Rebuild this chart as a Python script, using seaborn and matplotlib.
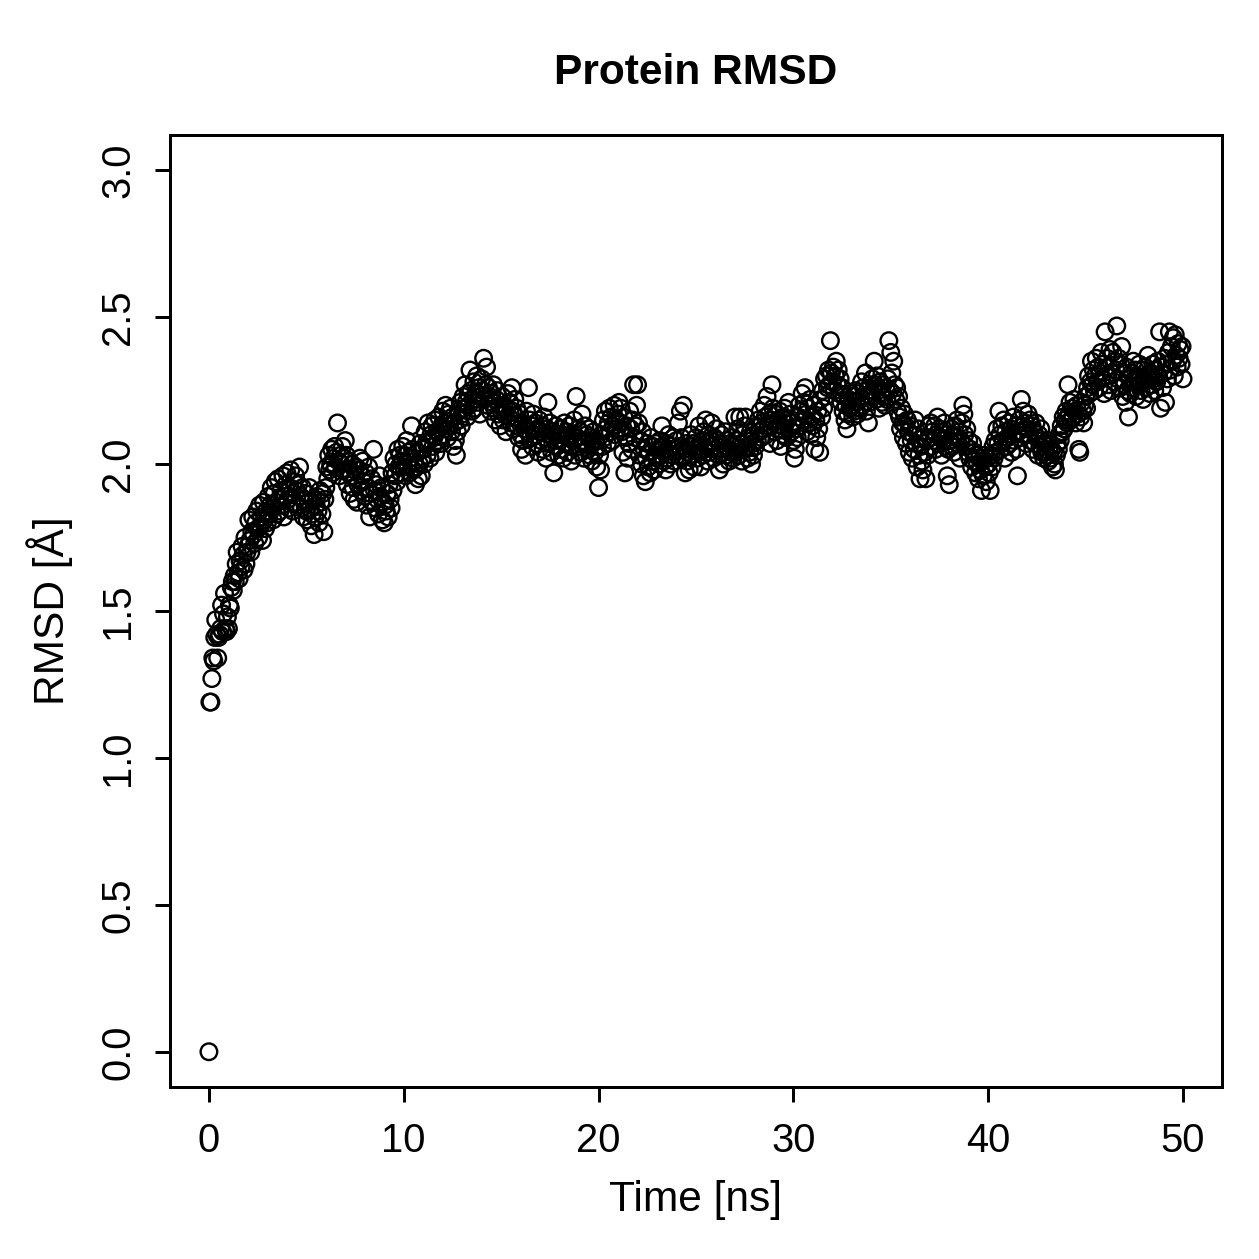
##############################################################################
#### Protein RMSD over simulation time (R base-graphics look)
##############################################################################
import numpy as np
import pandas as pd
import seaborn as sns
import matplotlib
matplotlib.use("Agg")
import matplotlib.pyplot as plt

###########
# Data: RMSD [A], one value every 0.05 ns (20 per ns)
rmsd_00_10 = [
    0.00, 1.19, 1.19, 1.27, 1.34, 1.33, 1.41, 1.47, 1.42, 1.34, 1.41, 1.42, 1.44, 1.52, 1.43, 1.49, 1.56, 1.44, 1.43, 1.48,
    1.44, 1.52, 1.51, 1.58, 1.60, 1.57, 1.62, 1.60, 1.66, 1.70, 1.63, 1.61, 1.67, 1.65, 1.72, 1.69, 1.64, 1.75, 1.66, 1.70,
    1.72, 1.81, 1.74, 1.70, 1.77, 1.82, 1.76, 1.73, 1.80, 1.84, 1.78, 1.75, 1.86, 1.79, 1.82, 1.74, 1.87, 1.81, 1.78, 1.84,
    1.80, 1.89, 1.83, 1.86, 1.92, 1.85, 1.81, 1.90, 1.94, 1.87, 1.83, 1.95, 1.88, 1.84, 1.91, 1.86, 1.96, 1.82, 1.89, 1.93,
    1.97, 1.88, 1.85, 1.92, 1.98, 1.90, 1.84, 1.94, 1.87, 1.96, 1.91, 1.86, 1.93, 1.99, 1.89, 1.85, 1.92, 1.82, 1.88, 1.90,
    1.84, 1.81, 1.87, 1.92, 1.85, 1.79, 1.83, 1.88, 1.76, 1.82, 1.86, 1.89, 1.84, 1.80, 1.91, 1.87, 1.83, 1.90, 1.77, 1.88,
    1.92, 1.99, 1.95, 2.03, 1.98, 2.00, 2.05, 1.97, 2.02, 2.06, 1.99, 2.04, 2.14, 2.01, 1.96, 2.03, 2.00, 2.06, 1.98, 2.02,
    2.08, 2.03, 1.93, 1.97, 2.01, 1.90, 1.96, 2.00, 1.92, 1.88, 1.95, 1.99, 1.87, 1.93, 1.98, 2.02, 1.91, 1.96, 2.01, 1.94,
    1.89, 1.97, 1.86, 1.92, 1.99, 1.82, 1.90, 1.95, 1.87, 2.05, 1.91, 1.85, 1.93, 1.88, 1.83, 1.96, 1.89, 1.92, 1.81, 1.87,
    1.80, 1.86, 1.84, 1.90, 1.82, 1.93, 1.88, 1.85, 1.97, 1.91, 2.02, 1.96, 2.00, 1.94, 2.05, 1.99, 2.03, 1.97, 2.01, 2.06,
]
rmsd_10_20 = [
    1.99, 2.03, 1.96, 2.08, 2.00, 2.04, 1.97, 2.02, 2.13, 2.05, 1.98, 2.01, 1.93, 1.99, 2.04, 1.95, 2.00, 2.07, 1.96, 2.02,
    2.05, 2.00, 2.11, 2.07, 2.03, 2.14, 2.08, 2.02, 2.10, 2.13, 2.06, 2.09, 2.15, 2.04, 2.11, 2.08, 2.16, 2.12, 2.07, 2.13,
    2.18, 2.10, 2.14, 2.20, 2.12, 2.09, 2.17, 2.13, 2.19, 2.11, 2.16, 2.06, 2.14, 2.08, 2.03, 2.11, 2.18, 2.15, 2.21, 2.13,
    2.17, 2.23, 2.19, 2.27, 2.21, 2.16, 2.24, 2.20, 2.32, 2.25, 2.18, 2.22, 2.28, 2.19, 2.24, 2.30, 2.21, 2.26, 2.17, 2.23,
    2.29, 2.25, 2.36, 2.22, 2.27, 2.33, 2.20, 2.26, 2.23, 2.18, 2.24, 2.21, 2.27, 2.19, 2.15, 2.22, 2.25, 2.17, 2.20, 2.13,
    2.18, 2.23, 2.15, 2.20, 2.17, 2.11, 2.19, 2.24, 2.16, 2.21, 2.14, 2.26, 2.18, 2.12, 2.22, 2.16, 2.19, 2.13, 2.09, 2.17,
    2.10, 2.05, 2.14, 2.08, 2.12, 2.03, 2.18, 2.11, 2.26, 2.15, 2.09, 2.13, 2.06, 2.17, 2.10, 2.14, 2.07, 2.12, 2.04, 2.15,
    2.11, 2.08, 2.13, 2.05, 2.16, 2.09, 2.02, 2.12, 2.21, 2.07, 2.14, 2.10, 2.04, 2.11, 1.97, 2.08, 2.13, 2.06, 2.10, 2.03,
    2.08, 2.12, 2.05, 2.10, 2.02, 2.14, 2.07, 2.11, 2.04, 2.09, 2.13, 2.06, 2.01, 2.10, 2.08, 2.15, 2.03, 2.23, 2.09, 2.12,
    2.06, 2.11, 2.04, 2.17, 2.08, 2.02, 2.13, 2.07, 2.10, 2.05, 2.12, 2.03, 2.09, 2.01, 2.07, 2.11, 2.04, 2.08, 1.99, 2.06,
]
rmsd_20_30 = [
    1.92, 2.03, 1.98, 2.10, 2.06, 2.15, 2.09, 2.18, 2.12, 2.07, 2.14, 2.19, 2.11, 2.16, 2.08, 2.13, 2.20, 2.10, 2.15, 2.12,
    2.17, 2.21, 2.14, 2.19, 2.11, 2.04, 2.16, 1.97, 2.09, 2.13, 2.02, 2.07, 2.18, 2.12, 2.05, 2.15, 2.27, 2.09, 2.13, 2.20,
    2.27, 2.14, 2.03, 2.08, 2.00, 2.11, 1.96, 2.05, 1.94, 2.02, 2.07, 1.99, 2.04, 1.97, 2.09, 2.01, 2.06, 1.98, 2.03, 2.07,
    2.02, 2.05, 2.00, 2.08, 2.03, 2.13, 2.06, 2.01, 2.04, 1.98, 2.07, 2.02, 2.10, 2.05, 2.00, 2.06, 2.03, 2.09, 2.01, 2.05,
    2.08, 2.03, 2.14, 2.06, 2.18, 2.09, 2.02, 2.20, 2.05, 1.97, 2.07, 2.01, 2.04, 1.98, 2.06, 2.10, 2.03, 2.07, 1.99, 2.05,
    2.09, 2.02, 2.06, 2.13, 2.04, 1.99, 2.08, 2.03, 2.11, 2.05, 2.15, 2.07, 2.01, 2.10, 2.04, 2.08, 2.14, 2.06, 2.02, 2.09,
    2.05, 2.12, 2.08, 2.03, 1.98, 2.07, 2.10, 2.04, 2.00, 2.06, 2.11, 2.03, 2.08, 2.05, 2.01, 2.07, 2.04, 2.09, 2.02, 2.06,
    2.16, 2.04, 2.08, 2.12, 2.03, 2.16, 2.07, 2.01, 2.10, 2.05, 2.13, 2.16, 2.06, 2.02, 2.09, 2.04, 2.11, 2.00, 2.07, 2.03,
    2.10, 2.06, 2.13, 2.08, 2.15, 2.11, 2.18, 2.09, 2.14, 2.12, 2.20, 2.16, 2.10, 2.23, 2.13, 2.17, 2.07, 2.15, 2.27, 2.19,
    2.14, 2.11, 2.17, 2.08, 2.15, 2.12, 2.18, 2.06, 2.13, 2.16, 2.10, 2.19, 2.14, 2.09, 2.15, 2.21, 2.12, 2.17, 2.11, 2.14,
]
rmsd_30_40 = [
    2.08, 2.02, 2.05, 2.12, 2.09, 2.16, 2.20, 2.13, 2.18, 2.24, 2.15, 2.21, 2.26, 2.17, 2.11, 2.19, 2.14, 2.22, 2.10, 2.16,
    2.13, 2.20, 2.05, 2.15, 2.09, 2.18, 2.12, 2.04, 2.22, 2.16, 2.25, 2.19, 2.29, 2.23, 2.30, 2.26, 2.32, 2.27, 2.42, 2.31,
    2.28, 2.33, 2.25, 2.30, 2.35, 2.27, 2.32, 2.24, 2.29, 2.21, 2.26, 2.18, 2.23, 2.15, 2.20, 2.12, 2.17, 2.22, 2.19, 2.24,
    2.20, 2.16, 2.23, 2.18, 2.25, 2.21, 2.17, 2.24, 2.19, 2.22, 2.28, 2.20, 2.26, 2.23, 2.31, 2.18, 2.25, 2.14, 2.21, 2.27,
    2.23, 2.29, 2.25, 2.35, 2.27, 2.22, 2.30, 2.26, 2.19, 2.28, 2.24, 2.21, 2.27, 2.23, 2.20, 2.26, 2.22, 2.29, 2.42, 2.25,
    2.38, 2.31, 2.24, 2.35, 2.27, 2.22, 2.26, 2.18, 2.23, 2.16, 2.12, 2.19, 2.14, 2.09, 2.17, 2.13, 2.07, 2.15, 2.11, 2.04,
    2.13, 2.08, 2.02, 2.10, 2.05, 2.15, 2.07, 1.99, 2.12, 2.03, 1.95, 2.06, 2.01, 1.98, 2.09, 2.04, 1.95, 2.08, 2.03, 2.13,
    2.09, 2.14, 2.06, 2.11, 2.08, 2.13, 2.05, 2.10, 2.16, 2.07, 2.12, 2.09, 2.03, 2.11, 2.08, 2.14, 2.06, 2.10, 1.96, 2.05,
    1.93, 2.08, 2.12, 2.06, 2.10, 2.04, 2.13, 2.09, 2.15, 2.07, 2.11, 2.02, 2.08, 2.14, 2.20, 2.17, 2.10, 2.06, 2.12, 2.04,
    2.08, 2.02, 2.05, 1.99, 2.07, 2.01, 2.04, 1.97, 2.03, 2.00, 1.95, 2.02, 1.98, 1.91, 2.01, 1.96, 2.03, 1.99, 1.94, 2.02,
]
rmsd_40_50 = [
    2.00, 1.97, 1.91, 2.03, 1.99, 2.06, 2.02, 2.08, 2.04, 2.12, 2.07, 2.18, 2.10, 2.05, 2.13, 2.08, 2.15, 2.02, 2.11, 2.06,
    2.09, 2.14, 2.07, 2.12, 2.04, 2.10, 2.16, 2.08, 2.13, 2.05, 1.96, 2.11, 2.15, 2.09, 2.22, 2.13, 2.18, 2.10, 2.14, 2.07,
    2.12, 2.17, 2.10, 2.15, 2.08, 2.13, 2.05, 2.11, 2.07, 2.14, 2.09, 2.03, 2.10, 2.06, 2.12, 2.04, 2.08, 2.02, 2.07, 2.05,
    2.03, 2.08, 2.01, 2.06, 2.02, 2.05, 1.99, 2.04, 2.00, 1.98, 2.03, 2.07, 2.05, 2.10, 2.08, 2.13, 2.11, 2.16, 2.12, 2.15,
    2.18, 2.14, 2.27, 2.17, 2.21, 2.15, 2.19, 2.16, 2.22, 2.18, 2.14, 2.20, 2.17, 2.05, 2.04, 2.16, 2.21, 2.18, 2.14, 2.20,
    2.23, 2.19, 2.26, 2.30, 2.24, 2.28, 2.35, 2.27, 2.32, 2.25, 2.30, 2.36, 2.28, 2.33, 2.26, 2.31, 2.38, 2.29, 2.34, 2.24,
    2.45, 2.30, 2.36, 2.27, 2.33, 2.39, 2.25, 2.31, 2.38, 2.28, 2.35, 2.32, 2.47, 2.29, 2.36, 2.26, 2.34, 2.40, 2.23, 2.31,
    2.27, 2.21, 2.33, 2.25, 2.16, 2.29, 2.24, 2.31, 2.26, 2.35, 2.28, 2.32, 2.23, 2.30, 2.27, 2.34, 2.29, 2.25, 2.32, 2.22,
    2.28, 2.33, 2.26, 2.30, 2.37, 2.29, 2.24, 2.31, 2.27, 2.34, 2.29, 2.25, 2.32, 2.28, 2.35, 2.30, 2.45, 2.19, 2.33, 2.26,
    2.31, 2.36, 2.21, 2.34, 2.29, 2.38, 2.45, 2.32, 2.40, 2.35, 2.43, 2.30, 2.44, 2.37, 2.33, 2.41, 2.36, 2.39, 2.34, 2.40,
    2.29,
]
frame_step_ns = 0.05
x_ticks = [0, 10, 20, 30, 40, 50]
y_ticks = [0.0, 0.5, 1.0, 1.5, 2.0, 2.5, 3.0]

rmsd = rmsd_00_10 + rmsd_10_20 + rmsd_20_30 + rmsd_30_40 + rmsd_40_50
df = pd.DataFrame({"rmsd": rmsd})
df["time"] = np.arange(len(df)) * frame_step_ns

##############################################################################
# Plot
##############################################################################
sns.set_style("ticks")
plt.rcParams["font.family"] = ["Liberation Sans", "DejaVu Sans"]
plt.rcParams["text.color"] = "black"
plt.rcParams["axes.labelcolor"] = "black"

dpi = 180
fig = plt.figure(figsize=(1259 / dpi, 1259 / dpi), dpi=dpi)
ax = fig.add_axes([0.135, 0.1366, 0.8356, 0.7562])

sns.scatterplot(data=df, x="time", y="rmsd", marker="o", s=44,
                facecolor="none", edgecolor="black", linewidth=0.95, ax=ax)

ax.set_xlim(-2, 52)
ax.set_ylim(-0.12, 3.12)
ax.set_xticks(x_ticks)
ax.set_xticklabels([str(t) for t in x_ticks])
ax.set_yticks(y_ticks)
ax.set_yticklabels(["%.1f" % v for v in y_ticks], rotation=90, va="center")

for side in ["top", "right", "bottom", "left"]:
    ax.spines[side].set_visible(True)
    ax.spines[side].set_linewidth(1.2)
    ax.spines[side].set_color("black")
ax.tick_params(axis="both", direction="out", length=6, width=1.2,
               labelsize=16, colors="black")
ax.tick_params(axis="x", pad=8)
ax.tick_params(axis="y", pad=7)

ax.set_xlabel("Time [ns]", fontsize=17)
ax.set_ylabel("RMSD [Å]", fontsize=17)
ax.xaxis.set_label_coords(0.5, -0.1187)
ax.xaxis.label.set_va("center")
ax.yaxis.set_label_coords(-0.114, 0.5)
ax.yaxis.label.set_va("center")
ax.set_title("Protein RMSD", fontsize=17, fontweight="bold", y=1.049, va="center")

fig.savefig("out.png", dpi=dpi, facecolor="white")
